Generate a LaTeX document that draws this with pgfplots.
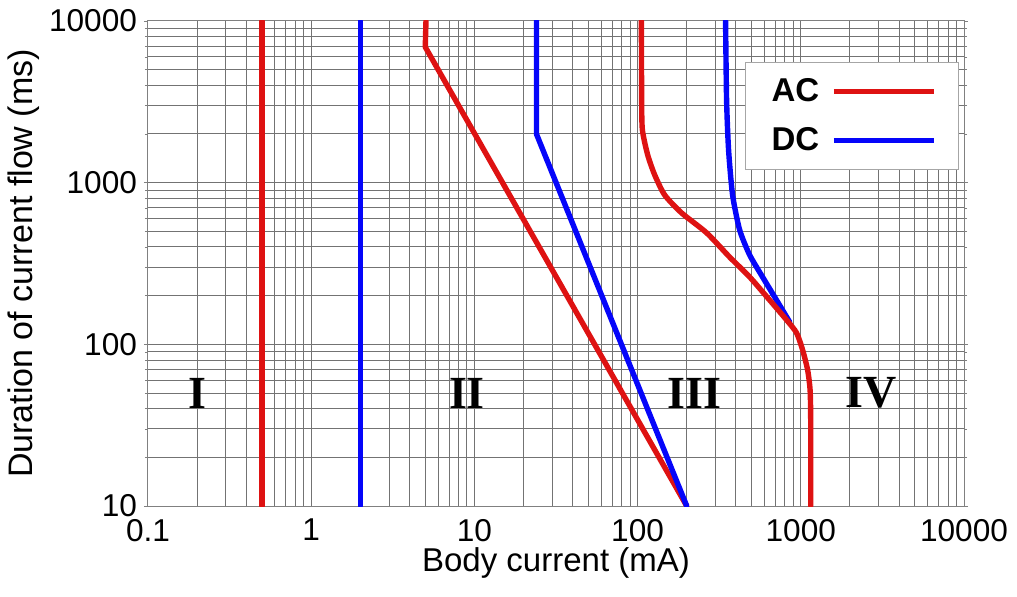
\documentclass[border=0pt]{standalone}
\usepackage{pgfplots}
\pgfplotsset{compat=1.18}
\usepackage{fontspec}
\setmainfont{Liberation Sans}
\newfontfamily\romfont{Liberation Serif}
\definecolor{acred}{RGB}{222,18,18}
\definecolor{dcblue}{RGB}{5,5,250}
\begin{document}
\begin{tikzpicture}
\begin{loglogaxis}[
  scale only axis,
  width=408pt, height=242.5pt,
  xmin=0.1, xmax=10000, ymin=10, ymax=10000,
  xtick={0.1,1,10,100,1000,10000},
  xticklabels={0.1,1,10,100,1000,10000},
  ytick={10,100,1000,10000},
  yticklabels={10,100,1000,10000},
  /pgf/number format/assume math mode=true,
  ticklabel style={font=\fontsize{15.8}{16}\selectfont},
  xlabel={Body current (mA)},
  ylabel={Duration of current flow (ms)},
  xlabel style={font=\fontsize{16.5}{17}\selectfont, yshift=4pt},
  ylabel style={font=\fontsize{17}{18}\selectfont, yshift=-2pt},
  grid=both,
  major grid style={black!55, line width=0.5pt},
  minor grid style={black!55, line width=0.5pt},
  axis line style={black!50, line width=0.5pt},
  xtick style={draw=none},
  ytick style={black!50},
  tick align=outside,
  major tick length=2pt, minor tick length=1.5pt,
  xticklabel style={yshift=-1pt},
  legend plot pos=right,
  legend image code/.code={\path (0pt,0pt); \draw[#1,line cap=butt] (4pt,0pt) -- (54pt,0pt);},
  legend style={at={(rel axis cs:0.994,0.916)}, anchor=north east,
    draw=black!35, fill=white, line width=0.5pt,
    font=\bfseries\fontsize{16.5}{17}\selectfont,
    inner xsep=11pt, inner ysep=6pt, row sep=7.5pt,
    cells={anchor=west}},
  every axis plot/.append style={line width=2.7pt, line join=round, line cap=round},
]
\addplot[acred] coordinates {(0.5,10) (0.5,10000)};
\addlegendentry{AC}
\addplot[dcblue] coordinates {(2,10) (2,10000)};
\addlegendentry{DC}
\addplot[acred, forget plot] coordinates {(5.05,10000) (5,6900) (200,10)};
\addplot[dcblue, forget plot] coordinates {(24,10000) (24,2000) (200,10)};
\addplot[dcblue, forget plot, smooth, tension=0.4] coordinates {
 (346,10000) (351,3245) (361,1592) (382,839) (422,510) (486,357)
 (583,261) (692,196) (854,137.6)};
\addplot[acred, forget plot, smooth, tension=0.4] coordinates {
 (105.5,10000) (105.9,3245) (107,2118) (115.3,1484) (127.3,1116)
 (146.5,839) (186,650) (265,489) (366,347) (486,261) (644,188)
 (818,141.6) (942,117.7) (1026,92.3) (1101,69.5) (1140,52.2)
 (1150,34) (1150,10)};
\node[font=\romfont\bfseries\fontsize{23}{24}\selectfont] at (axis cs:0.2,50) {I};
\node[font=\romfont\bfseries\fontsize{23}{24}\selectfont] at (axis cs:9,50) {II};
\node[font=\romfont\bfseries\fontsize{23}{24}\selectfont] at (axis cs:224,50) {III};
\node[font=\romfont\bfseries\fontsize{23}{24}\selectfont] at (axis cs:2710,50) {IV};
\end{loglogaxis}
\path ([xshift=-74pt,yshift=-45pt]current axis.south west) rectangle ([xshift=26.5pt,yshift=10.5pt]current axis.north east);
\end{tikzpicture}
\end{document}
